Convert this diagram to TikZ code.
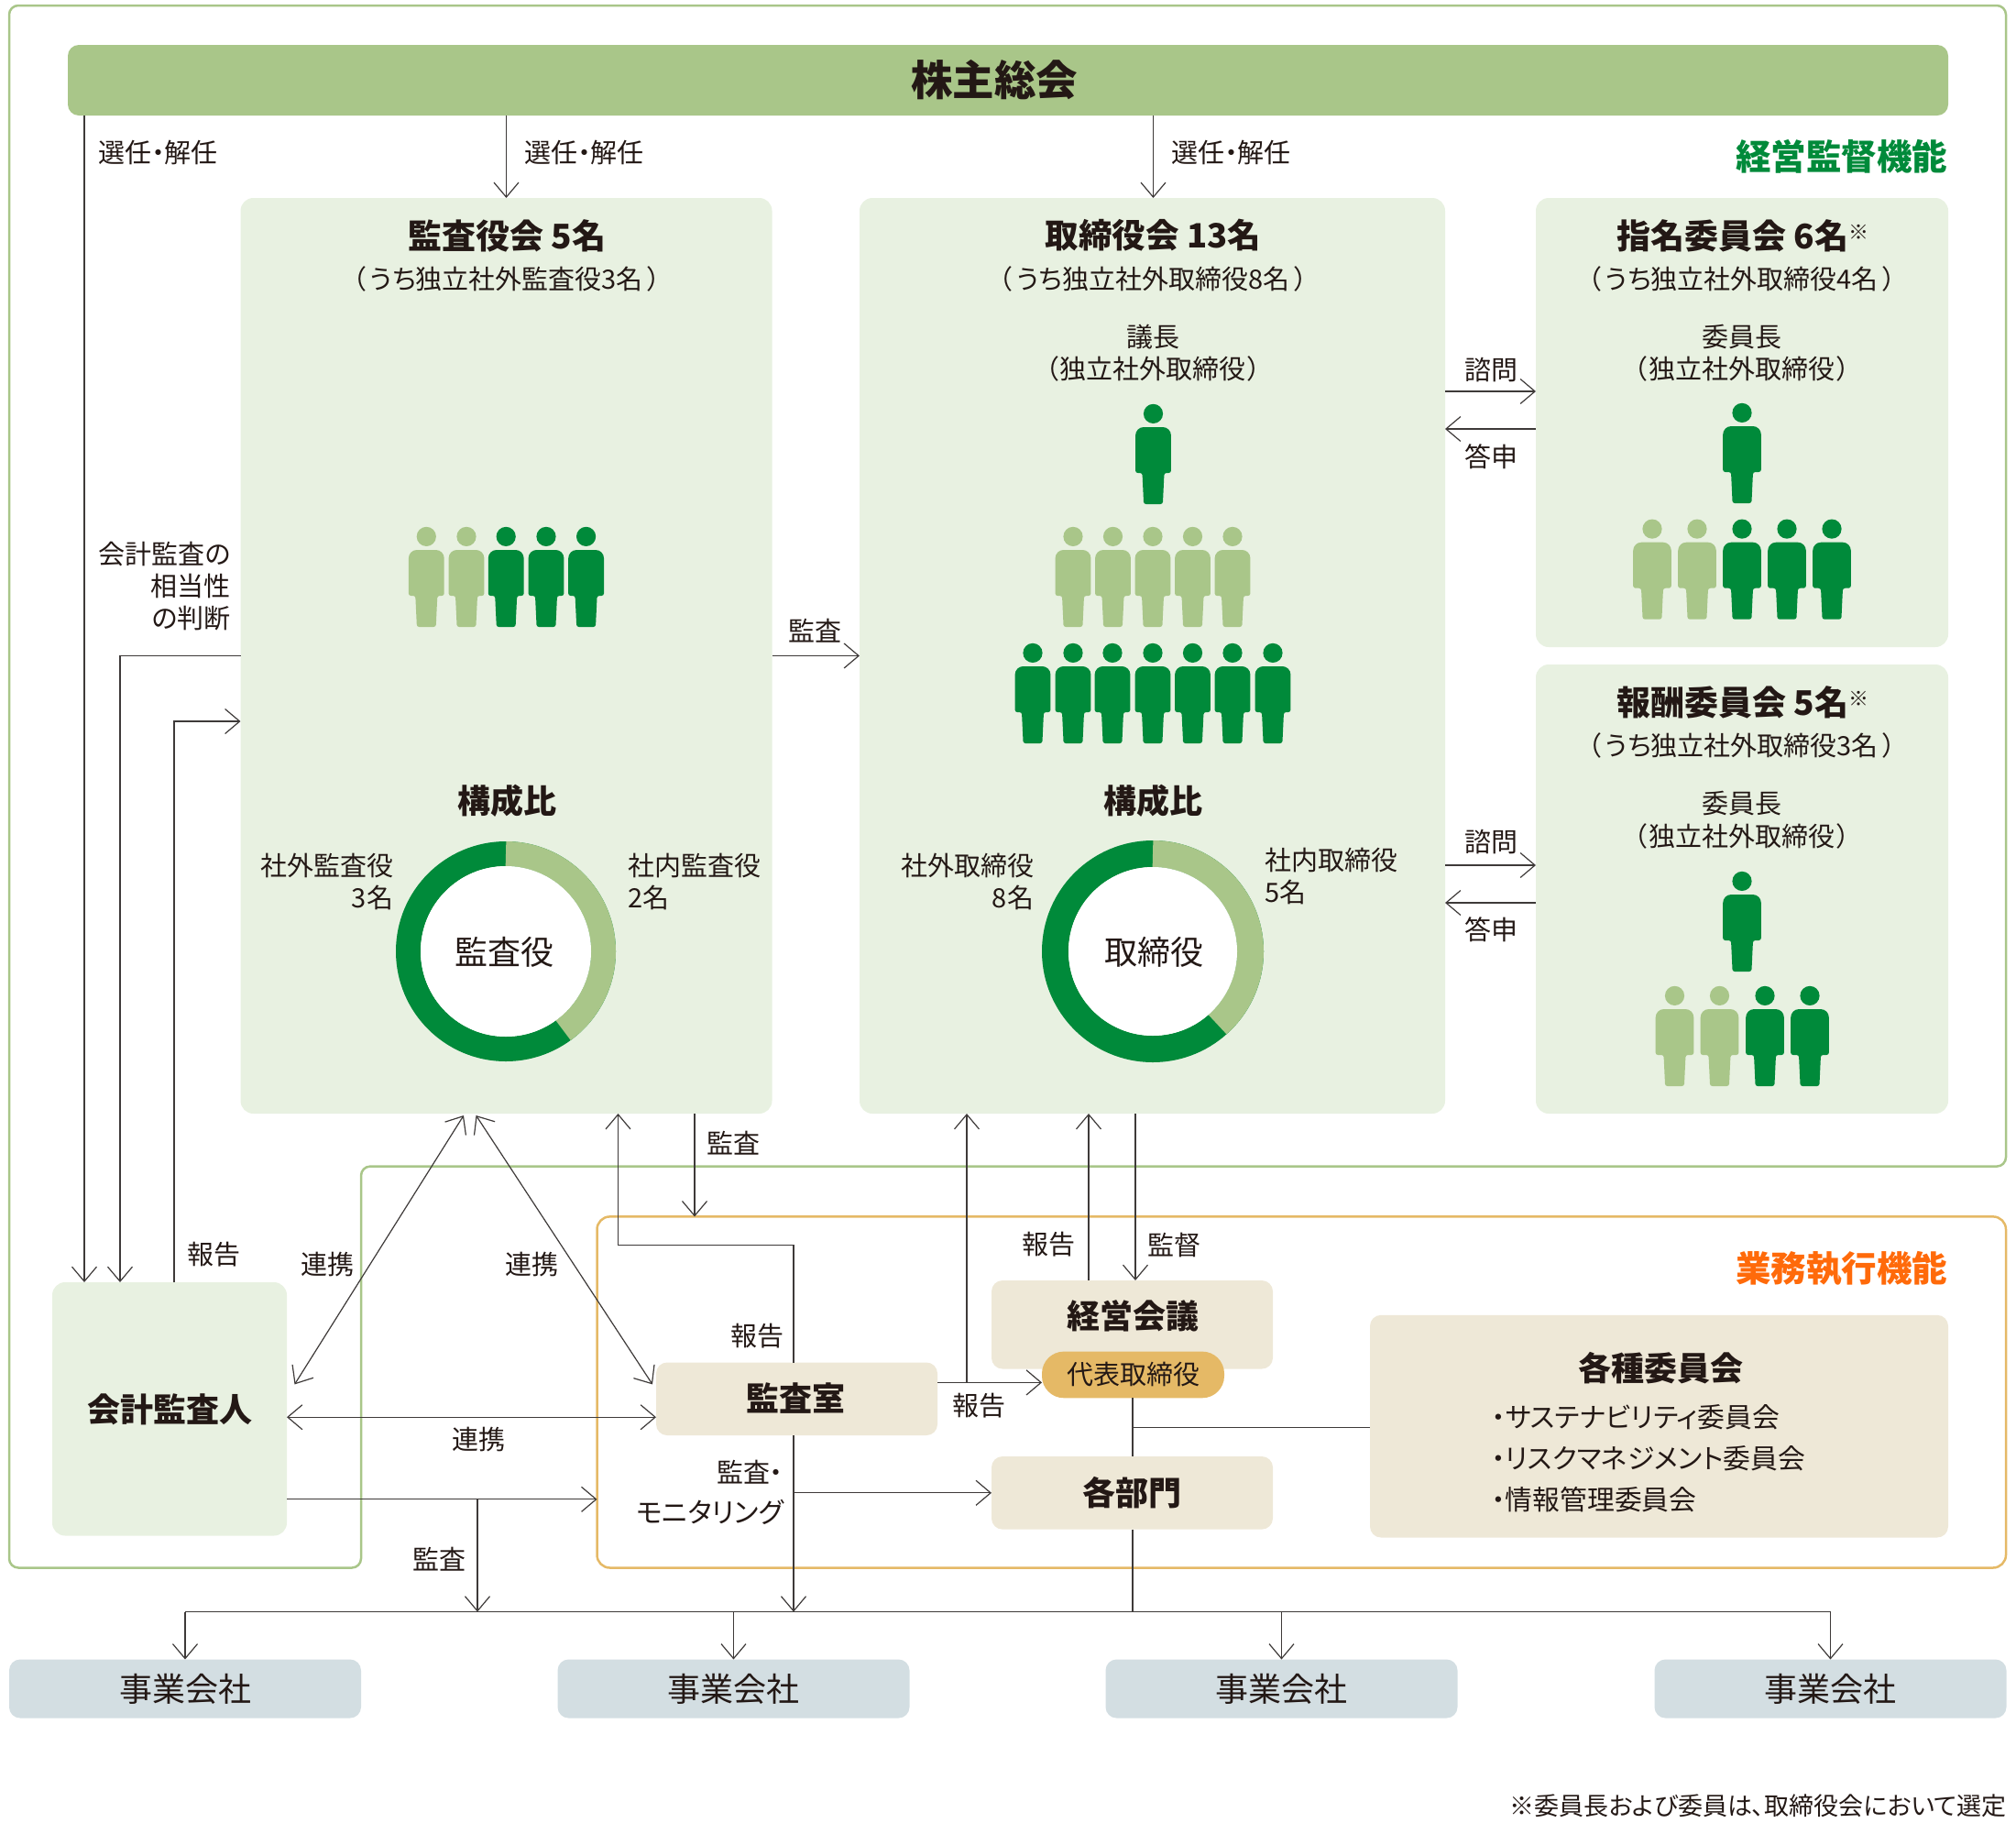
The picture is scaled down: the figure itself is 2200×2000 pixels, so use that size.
\documentclass[tikz,border=0pt]{standalone}
\usepackage{fontspec}
\setmainfont{Noto Sans CJK JP}[RawFeature={+palt}]
\usetikzlibrary{arrows.meta}
\definecolor{ink}{HTML}{231815}
\definecolor{wire}{HTML}{3E3A39}
\definecolor{lgreen}{HTML}{A9C689}
\definecolor{dgreen}{HTML}{008A3A}
\definecolor{pale}{HTML}{E8F1E1}
\definecolor{cream}{HTML}{EEE8D7}
\definecolor{slate}{HTML}{D3DEE2}
\definecolor{amber}{HTML}{E5B966}
\definecolor{hot}{HTML}{FF6A0A}
\newcommand{\onefig}[4]{%
  \begin{scope}[shift={(#1,#2)}]
    \fill[#3] (0,10.4) circle[radius=10.6pt];
    \fill[#3,rounded corners=9pt] (-#4,50) -- (-#4,25) -- (#4,25) -- (#4,50)
      [rounded corners=2.5pt] -- (#4,75) -- (12,75) -- (10.4,109) -- (-10.4,109) -- (-12,75) -- (-#4,75) -- cycle;
  \end{scope}}
\tikzset{
  x=1pt,y=-1pt,
  >={Straight Barb[length=16pt,width=27pt]},
  wireline/.style={draw=wire,line width=1.2pt},
  panel/.style={rectangle,fill=pale,rounded corners=14pt,outer sep=0pt,inner sep=0pt,anchor=north west},
  creambox/.style={rectangle,fill=cream,rounded corners=12pt,outer sep=0pt,inner sep=0pt,font=\fontsize{36}{42}\selectfont\bfseries,text=ink},
  firm/.style={rectangle,fill=slate,rounded corners=12pt,outer sep=0pt,inner sep=0pt,minimum width=384pt,minimum height=64pt,font=\fontsize{36}{42}\selectfont,text=ink},
  lab/.style={inner sep=0pt,outer sep=0pt,text=ink,yshift=-1.5pt,font=\fontsize{29}{33}\selectfont},
  head/.style={inner sep=0pt,outer sep=0pt,text=ink,font=\fontsize{36}{42}\selectfont\bfseries},
  title/.style={inner sep=0pt,outer sep=0pt,text=ink,font=\fontsize{37}{42}\selectfont\bfseries},
  ringhole/.style={circle,fill=white,inner sep=0pt,outer sep=0pt,text=ink,font=\fontsize{36}{42}\selectfont},
  func/.style={inner sep=0pt,outer sep=0pt,anchor=east,font=\fontsize{38.5}{44}\selectfont\bfseries},
  item/.style={inner sep=0pt,outer sep=0pt,text=ink,anchor=west,font=\fontsize{29.8}{33}\selectfont},
}
\newcommand{\mk}{{\fontsize{22}{22}\selectfont\mdseries\raisebox{10pt}{※}}}
\begin{document}
\begin{tikzpicture}
\useasboundingbox (0,0) rectangle (2200,2000);
% frames
\draw[lgreen,line width=2.5pt,rounded corners=10pt] (10,6) -- (2189,6) -- (2189,1272.6) -- (394,1272.6) -- (394,1710.5) -- (10,1710.5) -- cycle;
\draw[amber,line width=2.5pt,rounded corners=14pt] (651.5,1327.4) -- (2189,1327.4) -- (2189,1710.5) -- (651.5,1710.5) -- cycle;
% boxes
\node[rectangle,fill=lgreen,rounded corners=12pt,outer sep=0pt,inner sep=0pt,anchor=north west,minimum width=2052pt,minimum height=77pt] (bar) at (74,49) {};
\node[head,font=\fontsize{45.5}{50}\selectfont\bfseries] (barT) at (1085,87.5) {株主総会};
\node[panel,minimum width=580pt,minimum height=999pt] (kansa) at (262.5,216) {};
\node[panel,minimum width=639pt,minimum height=999pt] (board) at (938,216) {};
\node[panel,minimum width=450pt,minimum height=490pt] (nom) at (1676,216) {};
\node[panel,minimum width=450pt,minimum height=490pt] (rem) at (1676,725) {};
\node[panel,minimum width=256pt,minimum height=276.5pt] (auditor) at (57,1399) {};
\node[head] (auditorT) at (185,1537.3) {会計監査人};
\node[creambox,anchor=north west,minimum width=307pt,minimum height=79.5pt] (office) at (716,1486.5) {};
\node[head] (officeT) at (868.5,1525.3) {監査室};
\node[creambox,anchor=north west,minimum width=307pt,minimum height=96.5pt] (mgmt) at (1082,1397) {};
\node[head] (mgmtT) at (1236,1435.8) {経営会議};
\node[rectangle,fill=amber,rounded corners=24pt,outer sep=0pt,inner sep=0pt,anchor=north west,minimum width=199pt,minimum height=50.7pt,text=ink,font=\fontsize{29}{34}\selectfont] (pill) at (1137,1474.6) {代表取締役};
\node[creambox,anchor=north west,minimum width=307pt,minimum height=79.6pt] (dept) at (1082,1589) {各部門};
\node[creambox,anchor=north west,minimum width=631pt,minimum height=242.7pt] (comm) at (1495,1434.8) {};
\node[head] (commT) at (1812,1492.5) {各種委員会};
\node[firm] (f1) at (202,1842.5) {事業会社};
\node[firm] (f2) at (800.5,1842.5) {事業会社};
\node[firm] (f3) at (1398.5,1842.5) {事業会社};
\node[firm] (f4) at (1997.5,1842.5) {事業会社};
% helper coordinates
\coordinate (xa) at (92,0);
\coordinate (xb) at (131,0);
\coordinate (xc) at (190,0);
\coordinate (xd) at (552.5,0);
\coordinate (xe) at (1258.5,0);
\coordinate (xf) at (758,0);
\coordinate (xg) at (674.5,0);
\coordinate (xh) at (866,0);
\coordinate (xi) at (521,0);
\coordinate (xj) at (1055,0);
\coordinate (xk) at (1188,0);
\coordinate (xl) at (1239,0);
\coordinate (xm) at (1236,0);
\coordinate (ya) at (0,715.5);
\coordinate (yb) at (0,787);
\coordinate (yc) at (0,427);
\coordinate (yd) at (0,468);
\coordinate (ye) at (0,944);
\coordinate (yf) at (0,985);
\coordinate (yg) at (0,1546.2);
\coordinate (yh) at (0,1635.8);
\coordinate (yi) at (0,1508.4);
\coordinate (yj) at (0,1628.8);
\coordinate (yk) at (0,1557.7);
\coordinate (bus) at (0,1758.6);
\coordinate (tiny) at (0,1358.2);
\coordinate (frameL) at (651.5,0);
\coordinate (frameT) at (0,1327.4);
\coordinate (d1a) at (506,1217);
\coordinate (d1b) at (321.5,1510.4);
\coordinate (d2a) at (519.5,1217);
\coordinate (d2b) at (712,1510.4);
% connectors
\begin{scope}[wireline]
\draw[->] (bar.south -| xa) -- (auditor.north -| xa);
\draw[->] (kansa.west |- ya) -- (xb |- ya) -- (auditor.north -| xb);
\draw[->] (auditor.north -| xc) -- (xc |- yb) -- (kansa.west |- yb);
\draw[->] (bar.south -| xd) -- (kansa.north -| xd);
\draw[->] (bar.south -| xe) -- (board.north -| xe);
\draw[->] (kansa.east |- ya) -- (board.west |- ya);
\draw[->] (board.east |- yc) -- (nom.west |- yc);
\draw[->] (nom.west |- yd) -- (board.east |- yd);
\draw[->] (board.east |- ye) -- (rem.west |- ye);
\draw[->] (rem.west |- yf) -- (board.east |- yf);
\draw[->] (kansa.south -| xf) -- (xf |- frameT);
\draw[->] (office.north -| xh) -- (xh |- tiny) -- (xg |- tiny) -- (kansa.south -| xg);
\draw[->] (office.south -| xh) -- (xh |- bus);
\draw[->] (xh |- yj) -- (dept.west |- yj);
\draw[<->] (d1a) -- (d1b);
\draw[<->] (d2a) -- (d2b);
\draw[<->] (auditor.east |- yg) -- (office.west |- yg);
\draw[->] (auditor.east |- yh) -- (frameL |- yh);
\draw[->] (xi |- yh) -- (xi |- bus);
\draw[->] (office.east |- yi) -- (pill.west |- yi);
\draw[->] (xj |- yi) -- (board.south -| xj);
\draw[->] (mgmt.north -| xk) -- (board.south -| xk);
\draw[->] (board.south -| xl) -- (mgmt.north -| xl);
\draw (pill.south -| xm) -- (dept.north -| xm);
\draw (dept.south -| xm) -- (xm |- bus);
\draw (xm |- yk) -- (comm.west |- yk);
\draw (f1.center |- bus) -- (f4.center |- bus);
\draw[->] (f1.center |- bus) -- (f1.north);
\draw[->] (f2.center |- bus) -- (f2.north);
\draw[->] (f3.center |- bus) -- (f3.north);
\draw[->] (f4.center |- bus) -- (f4.north);
\end{scope}
% labels upper
\node[lab] (s1) at (172.5,165) {選任・解任};
\node[lab] (s2) at (637.5,165) {選任・解任};
\node[lab] (s3) at (1343.5,165) {選任・解任};
\node[func,text=dgreen] (fA) at (2125,171) {経営監督機能};
\node[title] (t1) at (553,257) {監査役会 5名};
\node[lab] (t1b) at (553,303) {（\kern5pt うち独立社外監査役3名\kern5pt ）};
\node[title,font=\fontsize{36.5}{42}\selectfont\bfseries] (t2) at (1258.5,257) {取締役会 13名};
\node[lab] (t2b) at (1258.5,303) {（\kern5pt うち独立社外取締役8名\kern5pt ）};
\node[lab] (t2c) at (1258.5,366) {議長};
\node[lab] (t2d) at (1258.5,401) {（\kern2pt 独立社外取締役\kern2pt ）};
\node[title] (t3) at (1902,257) {指名委員会 6名\mk};
\node[lab] (t3b) at (1901,303) {（\kern5pt うち独立社外取締役4名\kern5pt ）};
\node[lab] (t3c) at (1901,366) {委員長};
\node[lab] (t3d) at (1901,401) {（\kern2pt 独立社外取締役\kern2pt ）};
\node[title] (t4) at (1902,766) {報酬委員会 5名\mk};
\node[lab] (t4b) at (1901,812) {（\kern5pt うち独立社外取締役3名\kern5pt ）};
\node[lab] (t4c) at (1901,875.5) {委員長};
\node[lab] (t4d) at (1901,910.5) {（\kern2pt 独立社外取締役\kern2pt ）};
\node[lab,anchor=east] (j1) at (251.5,603) {会計監査の};
\node[lab,anchor=east] (j2) at (251.5,638) {相当性};
\node[lab,anchor=east] (j3) at (251.5,673) {の判断};
\node[lab] (k0) at (889.5,687) {監査};
\node[lab] (q1) at (1627.5,402) {諮問};
\node[lab] (a1) at (1627.5,497) {答申};
\node[lab] (q2) at (1627.5,917) {諮問};
\node[lab] (a2) at (1627.5,1012.5) {答申};
% people
\onefig{465.3}{575}{lgreen}{19.4}\onefig{509}{575}{lgreen}{19.4}\onefig{552.2}{575}{dgreen}{19.4}\onefig{596}{575}{dgreen}{19.4}\onefig{639.6}{575}{dgreen}{19.4}
\onefig{1258.5}{441}{dgreen}{19.4}
\onefig{1171}{575}{lgreen}{19.4}\onefig{1214.5}{575}{lgreen}{19.4}\onefig{1258}{575}{lgreen}{19.4}\onefig{1301.5}{575}{lgreen}{19.4}\onefig{1345}{575}{lgreen}{19.4}
\onefig{1127}{702}{dgreen}{19.4}\onefig{1171}{702}{dgreen}{19.4}\onefig{1214}{702}{dgreen}{19.4}\onefig{1258}{702}{dgreen}{19.4}\onefig{1301.5}{702}{dgreen}{19.4}\onefig{1345}{702}{dgreen}{19.4}\onefig{1389}{702}{dgreen}{19.4}
\onefig{1901}{440}{dgreen}{20.8}
\onefig{1803}{566.7}{lgreen}{20.8}\onefig{1852}{566.7}{lgreen}{20.8}\onefig{1901}{566.7}{dgreen}{20.8}\onefig{1950}{566.7}{dgreen}{20.8}\onefig{1999}{566.7}{dgreen}{20.8}
\onefig{1901}{951}{dgreen}{20.8}
\onefig{1827.5}{1076}{lgreen}{20.8}\onefig{1876.5}{1076}{lgreen}{20.8}\onefig{1926}{1076}{dgreen}{20.8}\onefig{1975}{1076}{dgreen}{20.8}
% rings
\node[head] (r1) at (553,874) {構成比};
\node[head] (r2) at (1258.5,874) {構成比};
\draw[dgreen,line width=27pt] (552,1038) circle[radius=106.5pt];
\draw[lgreen,line width=27pt] (552,1038) ++(90:106.5pt) arc[start angle=90,end angle=-54,radius=106.5pt];
\draw[dgreen,line width=29pt] (1258,1038) circle[radius=106.5pt];
\draw[lgreen,line width=29pt] (1258,1038) ++(90:106.5pt) arc[start angle=90,end angle=-48.5,radius=106.5pt];
\node[ringhole,minimum size=186pt] (h1) at (552,1038) {};
\node[ringhole,minimum size=184pt] (h2) at (1258,1038) {};
\node[ringhole,fill=none] (h1t) at (550,1039) {監査役};
\node[ringhole,fill=none] (h2t) at (1259.5,1039) {取締役};
\node[lab,anchor=east] (o1) at (429,943) {社外監査役};
\node[lab,anchor=east] (o1b) at (429,978) {3名};
\node[lab,anchor=west] (i1) at (685,943) {社内監査役};
\node[lab,anchor=west] (i1b) at (685,978) {2名};
\node[lab,anchor=east] (o2) at (1128,943) {社外取締役};
\node[lab,anchor=east] (o2b) at (1128,978) {8名};
\node[lab,anchor=west] (i2) at (1380.5,937) {社内取締役};
\node[lab,anchor=west] (i2b) at (1380.5,972) {5名};
% labels lower
\node[lab] (l1) at (800,1245.8) {監査};
\node[lab] (l2) at (233.6,1367.5) {報告};
\node[lab] (l3) at (357,1377.5) {連携};
\node[lab] (l4) at (580,1377.5) {連携};
\node[lab] (l5) at (522,1568.5) {連携};
\node[lab] (l6) at (826.6,1456) {報告};
\node[lab,anchor=east] (l7) at (854.5,1604.5) {監査・};
\node[lab,anchor=east,font=\fontsize{30}{33}\selectfont] (l8) at (855,1648.5) {モニタリング};
\node[lab] (l9) at (479,1700) {監査};
\node[lab] (l10) at (1144,1356.5) {報告};
\node[lab] (l11) at (1281,1356.5) {監督};
\node[lab] (l12) at (1068,1532.5) {報告};
\node[func,text=hot] (fB) at (2125,1384.5) {業務執行機能};
\node[item] (c1) at (1628,1546) {・サステナビリティ委員会};
\node[item] (c2) at (1628,1591) {・リスクマネジメント委員会};
\node[item] (c3) at (1628,1636) {・情報管理委員会};
\node[lab,anchor=east,font=\fontsize{27}{30}\selectfont] (note) at (2189,1969) {※委員長および委員は、取締役会において選定};
\end{tikzpicture}
\end{document}
